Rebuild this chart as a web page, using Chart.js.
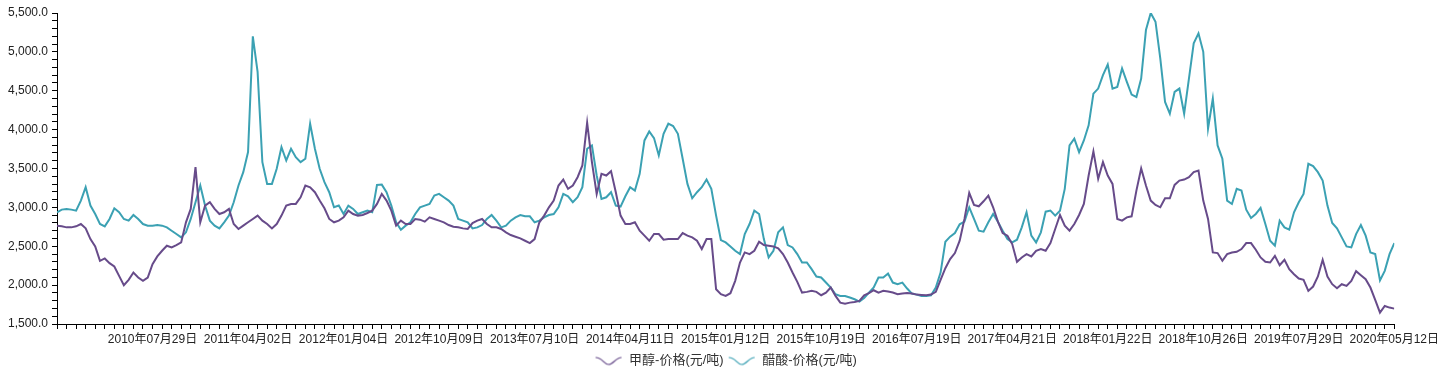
<!DOCTYPE html>
<html>
<head>
<meta charset="utf-8">
<script src="https://cdn.jsdelivr.net/npm/chart.js@4.4.1/dist/chart.umd.min.js"></script>
<style>
html,body{margin:0;padding:0;background:#fff;}
#wrap{width:1442px;height:370px;position:relative;}
</style>
</head>
<body>
<div id="wrap"><canvas id="c" width="1442" height="370"></canvas></div>
<script>
const seriesNames = ['甲醇-价格(元/吨)', '醋酸-价格(元/吨)'];
const tickLabels = ['2010年07月29日','2011年04月02日','2012年01月04日','2012年10月09日','2013年07月10日','2014年04月11日','2015年01月12日','2015年10月19日','2016年07月19日','2017年04月21日','2018年01月22日','2018年10月26日','2019年07月29日','2020年05月12日'];

const methanol = [
2765,2756,2743,2743,2756,2786,2730,2592,2498,2313,
2343,2283,2240,2119,1999,2068,2162,2098,2055,2098,
2270,2369,2442,2507,2485,2515,2550,2808,2980,3517,
2808,3023,3066,2980,2915,2937,2980,2786,2722,2765,
2808,2851,2894,2829,2786,2730,2786,2894,3023,3044,
3044,3130,3281,3259,3195,3087,2988,2851,2808,2829,
2872,2958,2915,2894,2902,2928,2958,3044,3173,3087,
2958,2765,2829,2786,2786,2851,2842,2816,2872,2851,
2829,2808,2773,2752,2743,2730,2722,2799,2829,2851,
2786,2743,2743,2722,2679,2644,2623,2601,2571,2541,
2592,2808,2894,3001,3087,3281,3358,3238,3281,3388,
3539,4090,3582,3173,3431,3410,3466,3195,2894,2786,
2786,2808,2700,2636,2571,2657,2657,2584,2592,2592,
2592,2670,2636,2614,2571,2464,2592,2592,1947,1883,
1861,1896,2055,2291,2421,2399,2442,2558,2515,2507,
2498,2472,2399,2291,2162,2042,1904,1913,1926,1913,
1870,1904,1969,1861,1775,1762,1775,1784,1797,1870,
1896,1934,1904,1926,1917,1904,1883,1891,1900,1891,
1878,1874,1870,1878,1913,2068,2218,2334,2412,2571,
2851,3186,3031,3014,3078,3152,3001,2816,2670,2636,
2528,2300,2356,2399,2369,2442,2464,2442,2541,2722,
2902,2765,2700,2786,2902,3044,3410,3720,3367,3582,
3410,3302,2851,2829,2872,2885,3216,3500,3281,3087,
3031,3001,3117,3117,3289,3345,3358,3388,3453,3474,
3087,2851,2420,2412,2313,2399,2420,2429,2464,2541,
2541,2455,2356,2300,2291,2377,2257,2326,2205,2141,
2085,2068,1926,1982,2111,2326,2111,2012,1960,2012,
1990,2055,2180,2128,2076,1969,1810,1646,1732,1711,1698
];

const aceticAcid = [
2937,2971,2980,2971,2958,3087,3259,3023,2915,2786,
2756,2851,2988,2937,2851,2829,2902,2851,2786,2765,
2765,2773,2765,2743,2700,2657,2614,2679,2851,3066,
3281,3023,2829,2765,2730,2808,2894,3066,3281,3453,
3711,5200,4743,3582,3302,3302,3496,3775,3603,3754,
3646,3582,3625,4076,3754,3496,3324,3195,3001,3023,
2915,3023,2980,2915,2937,2958,2937,3289,3293,3195,
3023,2808,2713,2765,2808,2915,3001,3023,3044,3152,
3173,3130,3087,3023,2851,2829,2808,2730,2743,2773,
2851,2902,2829,2743,2765,2829,2872,2902,2885,2885,
2808,2829,2872,2902,2915,3001,3173,3143,3066,3130,
3259,3754,3797,3410,3109,3130,3195,3023,3010,3143,
3259,3216,3431,3861,3977,3891,3668,3947,4076,4046,
3947,3625,3302,3117,3195,3259,3358,3238,2894,2580,
2550,2498,2442,2399,2657,2786,2958,2915,2592,2356,
2442,2679,2743,2515,2485,2399,2291,2291,2205,2111,
2098,2033,1969,1883,1861,1861,1840,1818,1788,1835,
1904,1969,2098,2098,2150,2033,2012,2033,1956,1891,
1878,1861,1861,1870,1969,2162,2558,2623,2670,2782,
2816,3001,2851,2700,2687,2808,2915,2816,2700,2592,
2550,2584,2743,2937,2636,2549,2679,2945,2958,2894,
2958,3238,3797,3883,3711,3861,4055,4463,4528,4700,
4838,4528,4550,4786,4614,4451,4420,4657,5281,5500,
5388,4915,4356,4205,4485,4528,4205,4657,5109,5238,
5001,4012,4400,3797,3625,3087,3044,3238,3216,2971,
2863,2915,2993,2786,2571,2507,2829,2743,2713,2937,
3066,3173,3560,3530,3453,3345,3023,2799,2730,2614,
2498,2485,2657,2773,2636,2420,2399,2060,2184,2399,2541
];

const colors = ['#674b8a', '#3ba1b3'];

function waveIcon(color) {
  const cv = document.createElement('canvas');
  cv.width = 28; cv.height = 12;
  const g = cv.getContext('2d');
  g.strokeStyle = color; g.lineWidth = 1.2;
  g.beginPath();
  g.moveTo(1, 3);
  g.bezierCurveTo(8, 3, 9, 10, 14, 10);
  g.bezierCurveTo(19, 10, 21, 3, 27, 3);
  g.stroke();
  return cv;
}

const FONT = '"Liberation Sans", Arial, "Noto Sans CJK SC", sans-serif';

new Chart(document.getElementById('c'), {
  type: 'line',
  data: {
    datasets: [
      { label: seriesNames[0], data: methanol.map((v, i) => ({x: i, y: v})), borderColor: colors[0], backgroundColor: colors[0], borderWidth: 2, pointRadius: 0, tension: 0, pointStyle: waveIcon(colors[0]) },
      { label: seriesNames[1], data: aceticAcid.map((v, i) => ({x: i, y: v})), borderColor: colors[1], backgroundColor: colors[1], borderWidth: 2, pointRadius: 0, tension: 0, pointStyle: waveIcon(colors[1]) }
    ]
  },
  options: {
    responsive: false,
    animation: false,
    layout: { padding: { left: 0, right: 47, top: 13, bottom: -7 } },
    plugins: {
      legend: {
        position: 'bottom',
        fullSize: false,
        labels: { usePointStyle: true, pointStyleWidth: 28, boxHeight: 12, padding: 4, color: '#333', font: { family: FONT, size: 13 } }
      },
      tooltip: { enabled: false }
    },
    scales: {
      x: {
        type: 'linear', min: 0, max: methanol.length - 1,
        border: { color: '#000', width: 1 },
        grid: { drawOnChartArea: false, drawTicks: true, tickLength: 5, tickColor: '#000' },
        ticks: {
          stepSize: 2, autoSkip: false, maxRotation: 0, padding: 3, color: '#222',
          font: { family: FONT, size: 12 },
          callback: (v) => (v > 0 && v % 20 === 0) ? tickLabels[v / 20 - 1] : ''
        },
        afterFit: (s) => { s.height = 26; }
      },
      y: {
        min: 1500, max: 5500,
        border: { color: '#000', width: 1 },
        grid: { drawOnChartArea: false, drawTicks: true, tickLength: 5, tickColor: '#000' },
        ticks: {
          stepSize: 100, autoSkip: false, maxTicksLimit: 100, padding: 4, color: '#222',
          font: { family: FONT, size: 12 },
          callback: (v) => (v % 500 === 0) ? v.toLocaleString('en-US', {minimumFractionDigits: 1, maximumFractionDigits: 1}) : ''
        },
        afterFit: (s) => { s.width = 57; }
      }
    }
  }
});
</script>
</body>
</html>
